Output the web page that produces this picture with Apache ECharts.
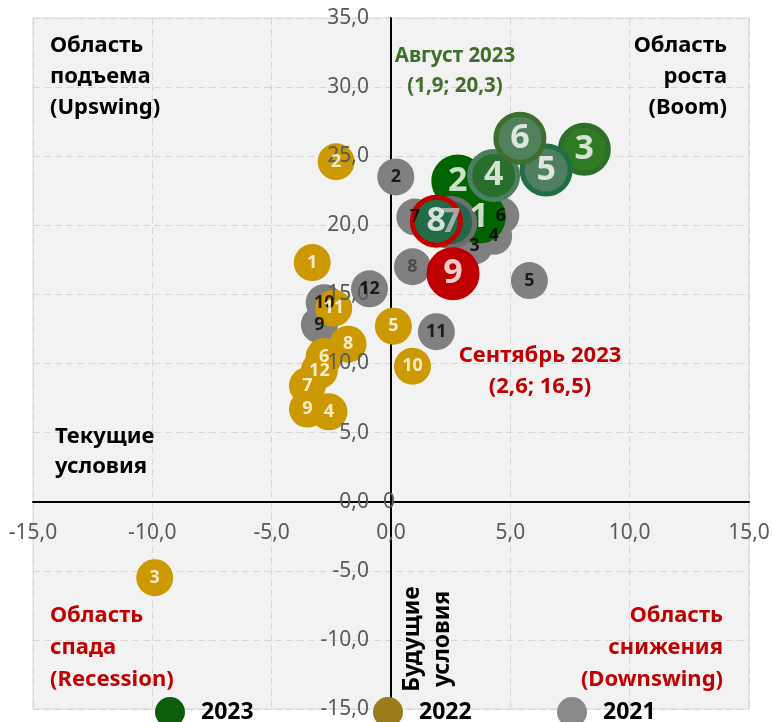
<!DOCTYPE html>
<html lang="ru">
<head>
<meta charset="UTF-8">
<script src="https://cdn.jsdelivr.net/npm/echarts@6/dist/echarts.min.js"></script>
<style>
  html, body { margin: 0; padding: 0; background: #ffffff; overflow: hidden; }
  #chart { width: 772px; height: 722px; }
</style>
</head>
<body>
<div id="chart"></div>
<script>
// номера месяцев (подписи пузырей)
var months2021 = ['1', '2', '3', '4', '5', '6', '7', '8', '9', '10', '11', '12'];
var months2022 = ['1', '2', '3', '4', '5', '6', '7', '8', '9', '10', '11', '12'];
var months2023 = ['1', '2', '3', '4', '5', '6', '7', '8', '9'];

// текущие условия (x) и будущие условия (y)
var x2021 = [3.8, 0.2, 3.5, 4.3, 5.8, 4.6, 1.0, 0.9, -3.0, -2.8, 1.9, -0.9];
var y2021 = [20.2, 23.5, 18.5, 19.2, 16.0, 20.7, 20.6, 17.0, 12.8, 14.4, 12.3, 15.4];

var x2022 = [-3.3, -2.3, -9.9, -2.6, 0.1, -2.8, -3.5, -1.8, -3.5, 0.9, -2.4, -3.0];
var y2022 = [17.3, 24.6, -5.5, 6.5, 12.7, 10.5, 8.4, 11.4, 6.7, 9.8, 14.0, 9.5];

var x2023 = [3.7, 2.8, 8.1, 4.3, 6.5, 5.4, 2.5, 1.9, 2.6];
var y2023 = [20.6, 23.2, 25.5, 23.6, 24.0, 26.3, 20.2, 20.3, 16.5];

// цвета пузырей 2023 по месяцам
var fill2023 = ['#006400', '#006400', '#2f7a24', '#2a6e2e', '#4f7f5f', '#50805c', '#22684a', '#236b47', '#c00000'];
var ring2023 = ['#006400', '#006400', '#2e6e2a', '#4a8060', '#1f6e45', '#3b6f2b', '#6e6e6e', '#c00000', '#c00000'];

// шкалы
var X_MIN = -15, X_MAX = 15, Y_MIN = -15, Y_MAX = 35, STEP = 5;

var FONT = '"Noto Sans", "DejaVu Sans", sans-serif';
var GRID = { left: 33, right: 23, top: 18, bottom: 13 };
var gridW = 772 - GRID.left - GRID.right;
var gridH = 722 - GRID.top - GRID.bottom;

function points(names, xs, ys) {
  return names.map(function (n, i) { return { name: n, value: [xs[i], ys[i]] }; });
}

function labelSeries(name, data, size, color, special) {
  return {
    name: name,
    type: 'scatter',
    z: 10,
    silent: true,
    symbolSize: 1,
    itemStyle: { color: 'transparent' },
    label: {
      show: true,
      position: 'inside',
      formatter: '{b}',
      fontFamily: FONT,
      fontWeight: 'bold',
      fontSize: size,
      color: color
    },
    data: data.map(function (d, i) {
      var c = (special && special[i]) || color;
      return { name: d.name, value: d.value, label: { color: c } };
    })
  };
}

var chart = echarts.init(document.getElementById('chart'));

var data2021 = points(months2021, x2021, y2021);
var data2022 = points(months2022, x2022, y2022);
var data2023 = points(months2023, x2023, y2023).map(function (d, i) {
  d.itemStyle = { color: fill2023[i], borderColor: ring2023[i], borderWidth: 5 };
  return d;
});

var fmt = function (v) { return v.toFixed(1).replace('.', ','); };

function legendAt(name, color, left) {
  return {
    data: [{ name: name, itemStyle: { color: color, borderWidth: 0 } }],
    icon: 'circle',
    left: left,
    top: 697,
    padding: 0,
    itemWidth: 30,
    itemHeight: 30,
    textStyle: { fontFamily: FONT, fontWeight: 'bold', fontSize: 23, color: '#000', padding: [2, 0, 0, 11] }
  };
}

function note(text, x, y, align, color, lh, size) {
  return {
    type: 'text', x: x, y: y, z: 20,
    style: {
      text: text, align: align, verticalAlign: 'top',
      font: 'bold ' + (size || 22) + 'px ' + FONT,
      lineHeight: lh || 31, fill: color || '#000'
    }
  };
}

var splitStyle = { show: true, lineStyle: { color: '#d6d6d6', type: [7, 4], width: 1 } };
var tickFont = { color: '#595959', fontFamily: FONT, fontSize: 21 };
// оси проходят через ноль
var xOffset = -(0 - Y_MIN) / (Y_MAX - Y_MIN) * gridH;
var yOffset = -(0 - X_MIN) / (X_MAX - X_MIN) * gridW;

// линии осей под пузырями, подписи поверх пузырей
function xAxisOf(labels) {
  return {
    type: 'value', min: X_MIN, max: X_MAX, interval: STEP,
    position: 'bottom', offset: xOffset, z: labels ? 5 : 0,
    axisLine: { show: !labels, onZero: false, lineStyle: { color: '#000', width: 2 } },
    axisTick: { show: false },
    axisLabel: Object.assign({ show: labels, formatter: fmt, margin: 21 }, tickFont),
    splitLine: labels ? { show: false } : splitStyle
  };
}
function yAxisOf(labels) {
  return {
    type: 'value', min: Y_MIN, max: Y_MAX, interval: STEP,
    position: 'left', offset: yOffset, z: labels ? 5 : 0,
    axisLine: { show: !labels, onZero: false, lineStyle: { color: '#000', width: 2 } },
    axisTick: { show: false },
    axisLabel: Object.assign({ show: labels, formatter: fmt, margin: 22 }, tickFont),
    splitLine: labels ? { show: false } : splitStyle
  };
}

var option = {
  animation: false,
  backgroundColor: '#ffffff',
  grid: {
    left: GRID.left, right: GRID.right, top: GRID.top, bottom: GRID.bottom,
    outerBoundsMode: 'none', containLabel: false,
    show: true, backgroundColor: '#f2f2f2', borderColor: '#d9d9d9', borderWidth: 1
  },
  xAxis: [xAxisOf(false), xAxisOf(true)],
  yAxis: [yAxisOf(false), yAxisOf(true)],
  legend: [
    legendAt('2023', '#0b5d0b', 155),
    legendAt('2022', '#9c7b1c', 373),
    legendAt('2021', '#8a8a8a', 557)
  ],
  series: [
    {
      name: '2021', type: 'scatter', z: 2, symbolSize: 37,
      itemStyle: { color: '#808080', opacity: 1 },
      data: data2021
    },
    {
      name: '2022', type: 'scatter', z: 3, symbolSize: 37,
      itemStyle: { color: '#cc9a00', opacity: 1 },
      data: data2022
    },
    {
      name: '2023', type: 'scatter', z: 4, symbolSize: 48,
      itemStyle: { color: '#006400', opacity: 1 },
      data: data2023
    },
    labelSeries('l2021', data2021, 18, '#000000', { 7: '#404040' }),
    labelSeries('l2022', data2022, 18, '#ffffff'),
    labelSeries('l2023', data2023, 34, '#ffffff', { 6: '#bfbfbf' })
  ],
  graphic: [
    note('Область\nподъема\n(Upswing)', 50, 30, 'left'),
    note('Область\nроста\n(Boom)', 727, 30, 'right'),
    note('Август 2023\n(1,9; 20,3)', 455, 41, 'center', '#3f6f2a', 30, 20.5),
    note('Сентябрь 2023\n(2,6; 16,5)', 540, 340, 'center', '#c00000', 31, 22),
    note('Текущие\nусловия', 55, 422, 'left', '#000', 30),
    note('Область\nспада\n(Recession)', 50, 600, 'left', '#c00000', 32),
    note('Область\nснижения\n(Downswing)', 723, 600, 'right', '#c00000', 32),
    {
      type: 'text', x: 427, y: 639, rotation: Math.PI / 2, z: 20,
      style: {
        text: 'Будущие\nусловия', align: 'center', verticalAlign: 'middle',
        font: 'bold 23px ' + FONT, lineHeight: 30, fill: '#000'
      }
    },
    {
      type: 'text', x: 389, y: 502, z: 30,
      style: { text: '0', align: 'center', verticalAlign: 'middle', font: '21px ' + FONT, fill: '#595959' }
    }
  ]
};

chart.setOption(option);
</script>
</body>
</html>
